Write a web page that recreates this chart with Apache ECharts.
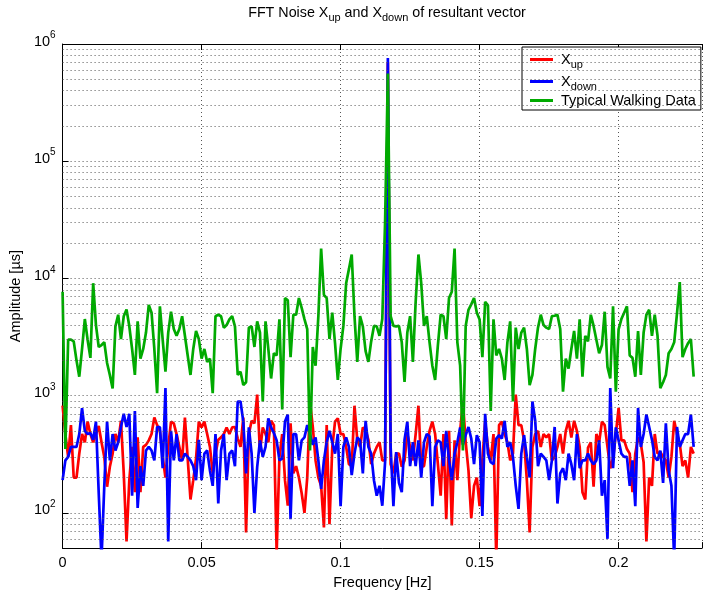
<!DOCTYPE html>
<html><head><meta charset="utf-8">
<script src="https://cdn.jsdelivr.net/npm/echarts@6/dist/echarts.min.js"></script>
<style>html,body{margin:0;padding:0;background:#fff}#c{width:705px;height:595px}</style>
</head><body><div id="c"></div>
<script>
// Frequency bins: 0 .. 0.227 Hz, step 0.001 Hz
const freqStep = 0.001;
const xTickLabels = ['0', '0.05', '0.1', '0.15', '0.2'];
const yTickExponents = [2, 3, 4, 5, 6];
const seriesNames = ['X_up', 'X_down', 'Typical Walking Data'];

const xUpAmp = [
820,470,300,560,200,200,320,470,400,600,
470,400,470,550,400,300,167,247,320,470,
400,610,217,57,190,365,150,440,150,365,
380,415,470,650,560,500,300,200,365,600,
580,470,365,280,650,290,130,190,290,600,
535,600,470,365,217,320,420,440,470,535,
470,535,540,430,365,650,68,470,610,580,
1020,330,535,470,400,610,560,45,300,470,
190,115,580,217,250,200,147,100,200,890,
540,280,200,170,75,560,80,360,600,640,
470,470,365,260,250,820,420,365,535,510,
420,260,320,365,400,280,280,700000,260,217,
320,320,247,280,470,365,280,470,820,247,
250,365,500,600,470,260,140,470,88,500,
78,415,190,500,890,400,230,90,170,200,
114,280,600,365,280,470,40,560,600,470,
400,280,320,1020,560,560,415,190,68,365,
470,500,365,470,440,470,280,300,365,470,
320,500,610,440,610,500,365,150,130,360,
400,167,470,400,600,560,365,240,290,470,
785,415,415,350,320,150,320,440,390,270,
57,200,170,470,320,330,300,280,200,300,
610,470,390,250,280,200,365,320
];

const xDownAmp = [
190,280,300,365,365,365,470,780,500,470,
480,420,600,147,40,170,600,280,470,340,
400,540,700,540,700,140,740,110,250,170,
340,365,340,280,540,540,240,1160,57,500,
280,470,280,280,320,300,280,250,190,420,
190,320,340,230,170,470,120,340,470,190,
320,340,250,890,890,600,217,535,320,100,
247,415,300,365,640,535,480,415,280,290,
600,690,88,470,470,280,415,440,560,470,
380,440,280,160,280,400,500,400,320,470,
114,365,440,365,210,320,440,415,217,610,
365,320,190,140,170,115,270,760000,365,114,
330,180,150,420,600,250,400,250,415,200,
400,470,450,114,365,415,400,250,500,280,
190,320,400,535,380,460,540,430,260,460,
400,94,700,320,270,260,430,460,430,610,
365,400,300,170,108,320,460,300,200,890,
610,250,320,300,280,190,280,540,120,217,
240,190,320,260,190,470,240,280,280,320,
280,260,280,415,140,190,60,1160,240,535,
415,320,300,300,170,280,114,785,365,470,
690,540,420,300,280,340,180,580,230,170,
40,540,365,415,470,470,690,365
];

const walkingAmp = [
7700,350,3000,3000,2900,2000,1450,2500,4500,3000,
2100,9100,4000,2600,2700,2850,1900,1500,1150,3900,
4900,3040,4760,5420,3900,2500,1500,4300,2070,2500,
3450,5940,5100,2500,1050,5780,3000,1600,3450,5200,
3700,3240,3700,4760,3240,2200,1500,2500,3560,3040,
2070,2500,1940,2070,1050,4760,4900,4760,3800,4000,
4470,4760,3900,1500,1600,1230,1300,3800,3900,2600,
4300,3450,890,4300,2500,1400,2300,2200,4470,760,
6800,6500,2130,4900,4900,6800,5600,4500,3700,340,
2600,1800,4760,18000,7250,6800,3040,5100,2800,1360,
2500,3930,9100,12000,16000,4760,1940,4760,3900,2400,
1940,2900,3930,3900,3240,4500,30000,560000,4760,3930,
3900,3930,2850,1310,3450,4760,1940,6300,16000,9100,
3930,4760,2850,1800,1360,2700,4900,4760,3040,6800,
7700,18000,2850,1800,340,3930,5400,6000,6800,5100,
4470,2130,6300,5900,740,4470,2200,2500,2070,1360,
2850,4300,890,3800,2500,3450,3800,2500,1230,1500,
2500,3800,4900,4000,3800,3700,4760,4800,4900,3700,
1080,2070,1700,2500,3560,2070,4470,1450,3240,2900,
4900,3930,3000,2300,2700,5200,1760,1400,5780,1080,
3680,4500,5100,5780,2200,2100,1450,3560,1500,3450,
4900,5400,3240,4900,3240,1160,1300,1500,2300,2500,
2850,5000,9300,2130,2500,2800,3040,1450
];

const freqs = walkingAmp.map((_, i) => +(i * freqStep).toFixed(4));
const pairs = arr => arr.map((v, i) => [freqs[i], v]);

// minor log grid values (2..9 x 10^k)
const minorGrid = [];
for (let e = 1; e <= 5; e++) for (let m = 2; m <= 9; m++) {
  const v = m * Math.pow(10, e);
  if (v > 50 && v < 1e6) minorGrid.push(v);
}

const FONT = '"Liberation Sans", Arial, Helvetica, sans-serif';
const FS = 14.5;
const LW = 2.7;
const dotted = { type: [1, 3], color: '#555', width: 1 };

const chart = echarts.init(document.getElementById('c'), null, { renderer: 'canvas' });
chart.setOption({
  animation: false,
  backgroundColor: '#fff',
  textStyle: { fontFamily: FONT },
  title: {
    text: '{t|FFT Noise X}{s|up}{t| and X}{s|down}{t| of resultant vector}',
    left: 387, top: 5, textAlign: 'center', padding: 0,
    textStyle: {
      fontFamily: FONT, fontWeight: 'normal', color: '#000',
      rich: {
        t: { fontSize: 14.3, fontFamily: FONT, color: '#000', verticalAlign: 'middle', lineHeight: 16 },
        s: { fontSize: 11, fontFamily: FONT, color: '#000', verticalAlign: 'middle', lineHeight: 11, padding: [10, 0, 0, 0] }
      }
    }
  },
  legend: {
    data: seriesNames,
    orient: 'vertical', left: 522, top: 47,
    padding: [2, 5, 2, 8], itemGap: 1,
    itemWidth: 23, itemHeight: 3, icon: 'rect',
    borderColor: '#000', borderWidth: 1, backgroundColor: '#fff',
    formatter: n => n === 'X_up' ? '{t|X}{s|up}' : (n === 'X_down' ? '{t|X}{s|down}' : '{t|' + n + '}'),
    textStyle: {
      fontFamily: FONT, color: '#000',
      rich: {
        t: { fontSize: FS, fontFamily: FONT, color: '#000', verticalAlign: 'middle', lineHeight: 20, padding: [0, 0, 0, 3] },
        s: { fontSize: 11, fontFamily: FONT, color: '#000', verticalAlign: 'middle', lineHeight: 10, padding: [10, 0, 0, 0] }
      }
    }
  },
  grid: { left: 61, top: 44, width: 653, height: 511 },
  xAxis: [{
    type: 'value', min: 0, max: 0.23, interval: 0.05,
    name: 'Frequency [Hz]', nameLocation: 'middle', nameGap: 25,
    nameTextStyle: { fontSize: FS, fontFamily: FONT, color: '#000' },
    axisLine: { show: true, onZero: false, lineStyle: { color: '#000', width: 1 } },
    axisTick: { show: true, inside: true, length: 6, lineStyle: { color: '#000' } },
    axisLabel: {
      fontSize: FS, fontFamily: FONT, color: '#000', margin: 7,
      formatter: v => { const k = Math.round(v / 0.05); return Math.abs(v - k * 0.05) < 1e-9 ? xTickLabels[k] || '' : ''; }
    },
    splitLine: { show: true, lineStyle: dotted }
  }, {
    type: 'value', min: 0, max: 0.23, interval: 0.05, position: 'top',
    axisLine: { show: true, onZero: false, lineStyle: { color: '#000', width: 1 } },
    axisTick: { show: true, inside: true, length: 6, lineStyle: { color: '#000' } },
    axisLabel: { show: false }, splitLine: { show: false }
  }],
  yAxis: {
    type: 'log', logBase: 10, min: 50, max: 1e6,
    name: 'Amplitude [\u00b5s]', nameLocation: 'middle', nameGap: 29,
    nameTextStyle: { fontSize: FS, fontFamily: FONT, color: '#000' },
    axisLine: { show: true, onZero: false, lineStyle: { color: '#000', width: 1 } },
    axisTick: { show: true, inside: true, length: 6, lineStyle: { color: '#000' } },
    axisLabel: {
      margin: 7, color: '#000',
      formatter: v => {
        const e = Math.log10(v), r = Math.round(e);
        if (Math.abs(e - r) > 1e-6 || yTickExponents.indexOf(r) < 0) return '';
        return '{b|10}{s|' + r + '}';
      },
      rich: {
        b: { fontSize: FS, fontFamily: FONT, color: '#000', verticalAlign: 'middle', lineHeight: 14, padding: [0, 0, 5, 0] },
        s: { fontSize: 10, fontFamily: FONT, color: '#000', verticalAlign: 'middle', lineHeight: 10, padding: [0, 0, 17, 0] }
      }
    },
    splitLine: { show: true, lineStyle: dotted },
    minorTick: { show: false }, minorSplitLine: { show: false }
  },
  series: [
    {
      name: 'minor-grid', type: 'line', z: 1, silent: true,
      data: [[0.1, 1000]], symbol: 'none', lineStyle: { opacity: 0 },
      markLine: {
        silent: true, symbol: 'none', animation: false,
        label: { show: false }, lineStyle: dotted,
        emphasis: { disabled: true },
        data: minorGrid.map(v => ({ yAxis: v }))
      }
    },
    { name: 'X_up', type: 'line', data: pairs(xUpAmp), symbol: 'none', color: '#ff0000',
      lineStyle: { width: LW, color: '#ff0000' }, z: 2 },
    { name: 'X_down', type: 'line', data: pairs(xDownAmp), symbol: 'none', color: '#0000ff',
      lineStyle: { width: LW, color: '#0000ff' }, z: 3 },
    { name: 'Typical Walking Data', type: 'line', data: pairs(walkingAmp), symbol: 'none', color: '#00aa00',
      lineStyle: { width: LW, color: '#00aa00' }, z: 4 }
  ]
});
</script>
</body></html>
